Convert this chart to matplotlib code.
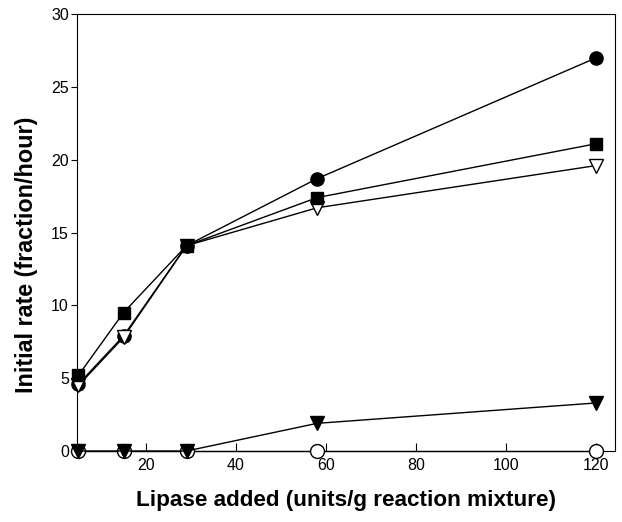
import matplotlib
matplotlib.use("Agg")
import matplotlib.pyplot as plt

plt.rcParams['font.family'] = ['Liberation Sans', 'DejaVu Sans']

# lipase dose (units/g reaction mixture)
lipase = [5, 15, 29, 58, 120]

# initial rates (fraction/hour)
rate_circle = [4.6, 7.9, 14.1, 18.7, 27.0]
rate_square = [5.2, 9.5, 14.1, 17.4, 21.1]
rate_open_tri = [4.5, 7.8, 14.1, 16.7, 19.6]
rate_filled_tri = [0, 0, 0, 1.9, 3.3]
rate_open_circle = [0, 0, 0, 0, 0]

xticks = [20, 40, 60, 80, 100, 120]
yticks = [0, 5, 10, 15, 20, 25, 30]

fig = plt.figure(figsize=(6.22, 5.22), dpi=100)
ax = fig.add_axes([0.124, 0.136, 0.865, 0.837])

kw = dict(color='black', lw=1.0, markeredgecolor='black', markeredgewidth=1.0, clip_on=False)
ax.plot(lipase, rate_open_circle, marker='o', ms=10, markerfacecolor='white', zorder=3, **kw)
ax.plot(lipase, rate_filled_tri, marker='v', ms=10, markerfacecolor='black', zorder=4, **kw)
ax.plot(lipase, rate_open_tri, marker='v', ms=10, markerfacecolor='white', zorder=5, **kw)
ax.plot(lipase, rate_circle, marker='o', ms=9.5, markerfacecolor='black', zorder=4, **kw)
ax.plot(lipase, rate_square, marker='s', ms=8.5, markerfacecolor='black', zorder=6, **kw)

ax.set_xlim(4.7, 124.2)
ax.set_ylim(0, 30)
ax.set_xticks(xticks)
ax.set_yticks(yticks)
ax.tick_params(axis='x', direction='in', length=6, pad=5, labelsize=11.5)
ax.tick_params(axis='y', direction='out', length=4, pad=2, labelsize=11.5)

ax.set_xlabel('Lipase added (units/g reaction mixture)', fontsize=16.2, fontweight='bold', labelpad=12)
ax.set_ylabel('Initial rate (fraction/hour)', fontsize=16.8, fontweight='bold')
ax.yaxis.set_label_coords(-0.073, 0.449)

fig.savefig('out.png', dpi=100)
